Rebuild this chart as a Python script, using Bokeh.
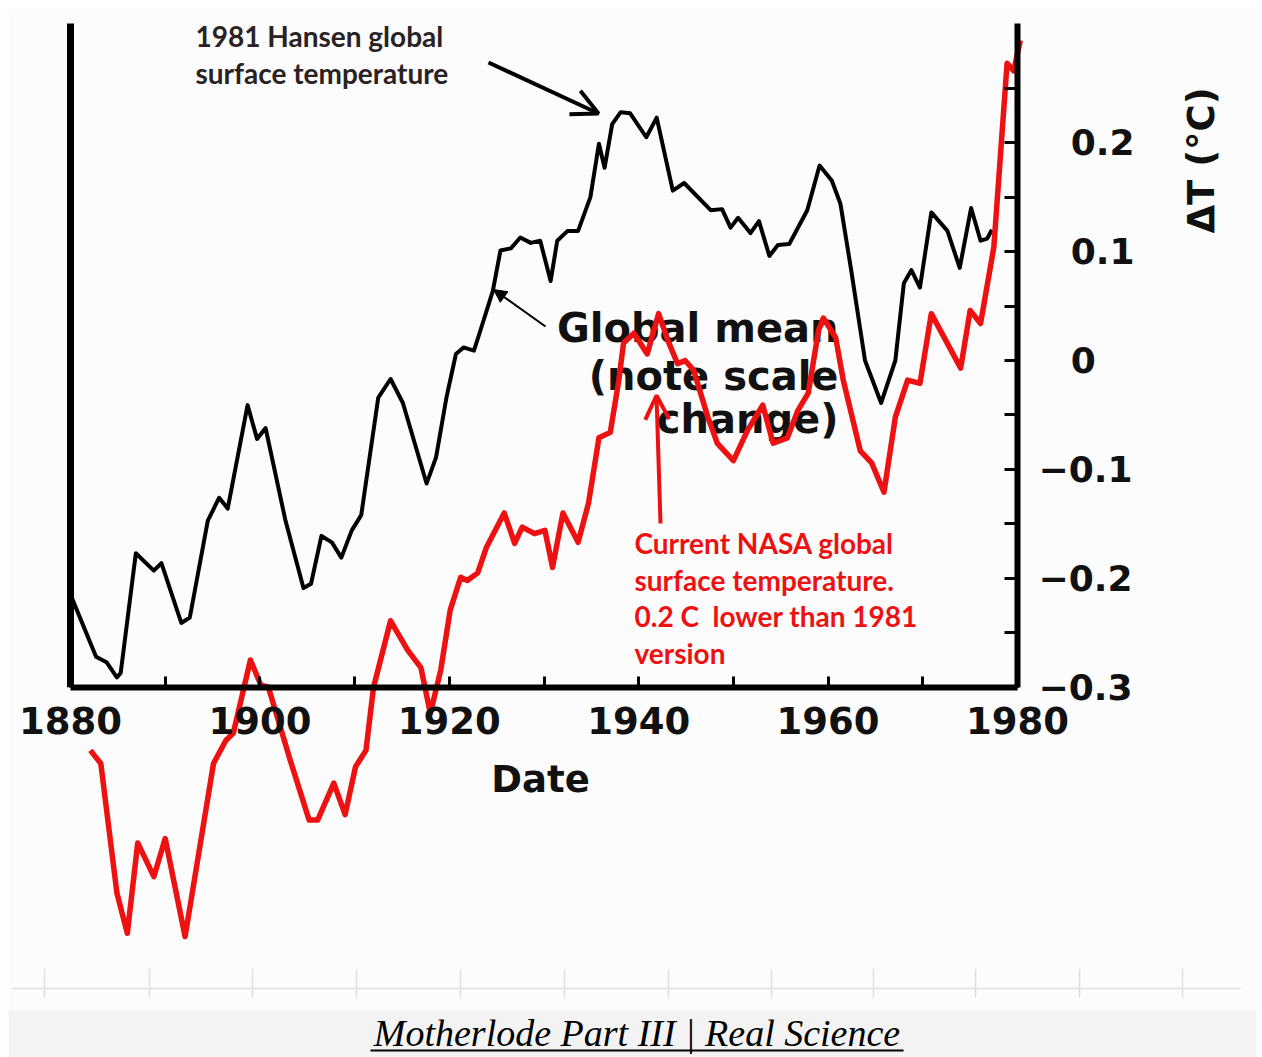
from bokeh.plotting import figure
from bokeh.models import (Range1d, LinearAxis, FixedTicker, Arrow, OpenHead,
                          NormalHead, Label, BoxAnnotation)
from bokeh.core.properties import value
from bokeh.embed import file_html
from bokeh.resources import INLINE

# ---------------- data ----------------
hansen_year = [1880.0, 1882.7, 1883.8, 1884.9, 1885.3, 1886.9, 1888.8, 1889.6, 1891.7, 1892.6,
               1894.5, 1895.7, 1896.6, 1898.7, 1899.7, 1900.6, 1902.7, 1904.6, 1905.4, 1906.5,
               1907.6, 1908.6, 1909.7, 1910.7, 1912.5, 1913.8, 1915.1, 1917.6, 1918.6, 1919.7,
               1920.7, 1921.5, 1922.6, 1923.3, 1924.6, 1925.4, 1926.5, 1927.5, 1928.6, 1929.6,
               1930.7, 1931.4, 1932.5, 1933.6, 1934.9, 1935.8, 1936.4, 1937.2, 1938.1, 1939.1,
               1940.8, 1941.9, 1943.6, 1944.8, 1947.6, 1948.8, 1949.7, 1950.5, 1951.8, 1952.7,
               1953.8, 1954.7, 1955.9, 1957.8, 1959.1, 1960.4, 1961.3, 1962.4, 1963.9, 1965.6,
               1967.1, 1968.0, 1968.8, 1969.7, 1970.9, 1972.6, 1973.9, 1975.1, 1976.1, 1976.8,
               1977.3]
hansen_temp = [-0.215, -0.272, -0.277, -0.291, -0.287, -0.177, -0.193, -0.186, -0.241, -0.236,
               -0.147, -0.126, -0.136, -0.041, -0.072, -0.062, -0.147, -0.209, -0.205, -0.161,
               -0.167, -0.181, -0.156, -0.142, -0.034, -0.017, -0.039, -0.113, -0.089, -0.034,
               0.006, 0.012, 0.009, 0.028, 0.064, 0.101, 0.103, 0.113, 0.108, 0.110,
               0.073, 0.110, 0.119, 0.119, 0.150, 0.199, 0.177, 0.217, 0.228, 0.227,
               0.205, 0.223, 0.156, 0.163, 0.138, 0.139, 0.122, 0.131, 0.117, 0.128,
               0.096, 0.106, 0.107, 0.138, 0.179, 0.165, 0.144, 0.085, 0.000, -0.039,
               0.000, 0.071, 0.083, 0.067, 0.136, 0.119, 0.085, 0.140, 0.110, 0.112,
               0.120]

nasa_year = [1882.1, 1883.2, 1884.9, 1886.0, 1887.1, 1888.8, 1890.0, 1892.1, 1895.1, 1896.4,
             1897.2, 1899.0, 1900.1, 1900.9, 1903.2, 1905.2, 1906.1, 1907.8, 1909.0, 1910.1,
             1911.2, 1912.0, 1913.8, 1915.6, 1917.0, 1918.0, 1919.1, 1920.1, 1921.2, 1921.9,
             1923.0, 1923.9, 1925.8, 1926.9, 1927.7, 1929.0, 1930.1, 1930.9, 1932.0, 1933.6,
             1934.7, 1935.8, 1937.0, 1937.9, 1938.4, 1939.5, 1940.9, 1942.1, 1943.1, 1944.1,
             1944.9, 1945.8, 1947.3, 1948.3, 1950.0, 1951.5, 1953.1, 1954.2, 1955.7, 1956.8,
             1957.9, 1959.0, 1959.5, 1960.8, 1961.6, 1963.4, 1964.6, 1965.9, 1967.1, 1968.4,
             1969.7, 1970.9, 1974.0, 1975.0, 1976.1, 1977.5, 1978.9, 1979.6, 1980.3]
nasa_temp = [-0.358, -0.370, -0.489, -0.526, -0.443, -0.474, -0.439, -0.529, -0.370, -0.349,
             -0.342, -0.275, -0.298, -0.300, -0.367, -0.422, -0.422, -0.388, -0.417, -0.373,
             -0.358, -0.300, -0.239, -0.266, -0.282, -0.324, -0.284, -0.229, -0.199, -0.202,
             -0.195, -0.172, -0.140, -0.168, -0.153, -0.159, -0.156, -0.190, -0.140, -0.167,
             -0.131, -0.071, -0.066, -0.018, 0.016, 0.025, 0.006, 0.043, 0.018, -0.003,
             0.000, -0.009, -0.052, -0.076, -0.092, -0.064, -0.041, -0.076, -0.071, -0.046,
             -0.030, 0.028, 0.039, 0.021, -0.018, -0.083, -0.094, -0.121, -0.052, -0.018,
             -0.021, 0.043, -0.007, 0.046, 0.034, 0.104, 0.273, 0.266, 0.294]

year_labels = [1880, 1900, 1920, 1940, 1960, 1980]
year_minor = [1890, 1910, 1930, 1950, 1970]
temp_labels = [-0.3, -0.2, -0.1, 0.0, 0.1, 0.2]
temp_minor = [-0.25, -0.15, -0.05, 0.05, 0.15, 0.25]

hansen_text = ["1981 Hansen global", "surface temperature"]
nasa_text = ["Current NASA global", "surface temperature.",
             "0.2 C\u00a0 lower than 1981", "version"]
mean_text = ["Global mean", "(note scale", "change)"]
caption = "Motherlode Part III | Real Science"

# ---------------- page-pixel to data helpers (layout only) ----------------
PX_PER_YEAR = 9.47
PX_PER_DEG = 1089.0
BASE_FIX = 0.36   # alphabetic-baseline correction, in em


def dx(px):
    return 1880 + (px - 70) / PX_PER_YEAR


def dy(py):
    return (360 - py) / PX_PER_DEG


def base(py, size):
    return dy(py - BASE_FIX * size)


W, H = 1262, 1057
RED = "#ee1111"

p = figure(width=W, height=H, output_backend="svg", toolbar_location=None,
           x_range=Range1d(dx(0), dx(W)), y_range=Range1d(dy(H), dy(0)),
           x_axis_location=None, y_axis_location=None, min_border=0,
           background_fill_color="#fcfcfc", border_fill_color="white")
p.xgrid.visible = False
p.ygrid.visible = False
p.outline_line_color = None

# white outer frame and caption band
for kw in (dict(right=dx(8)), dict(bottom=dy(8)), dict(left=dx(1256))):
    p.add_layout(BoxAnnotation(fill_color="white", fill_alpha=1.0, line_color=None,
                               level="underlay", **kw))
p.add_layout(BoxAnnotation(top=dy(1010), left=dx(8), right=dx(1256), fill_color="#f3f3f3",
                           fill_alpha=1.0, line_color=None, level="underlay"))

# faint ghost axis near the bottom
GHOST = "#e0e0e0"
ghost_px = [44, 149, 252, 356, 460, 564, 668, 771, 873, 975, 1079, 1182]
p.segment(x0=[dx(12)], y0=[dy(988)], x1=[dx(1240)], y1=[dy(988)],
          line_color=GHOST, line_width=1.5)
p.segment(x0=[dx(v) for v in ghost_px], y0=[dy(968)] * len(ghost_px),
          x1=[dx(v) for v in ghost_px], y1=[dy(997)] * len(ghost_px),
          line_color=GHOST, line_width=1.5)

# left spine
p.segment(x0=[1880], y0=[-0.3], x1=[1880], y1=[dy(23)], line_color="black", line_width=7)

# bottom axis
xaxis = LinearAxis(fixed_location=-0.3,
                   ticker=FixedTicker(ticks=year_labels, minor_ticks=year_minor),
                   bounds=(1880, 1980), axis_line_width=6, axis_line_color="black",
                   major_tick_in=11, major_tick_out=0, major_tick_line_width=3,
                   minor_tick_in=11, minor_tick_out=0, minor_tick_line_width=3,
                   major_label_text_font="DejaVu Sans", major_label_text_font_style="bold",
                   major_label_text_font_size="37px", major_label_text_color="#111111",
                   major_label_standoff=20)
p.add_layout(xaxis, "below")

# right axis
overrides = {}
for v in temp_labels:
    s = f"{abs(v):g}"
    overrides[v] = ("\u2212" + s) if v < 0 else ("\u2007\u2009" + s)
yaxis = LinearAxis(fixed_location=1980,
                   ticker=FixedTicker(ticks=temp_labels, minor_ticks=temp_minor),
                   bounds=(-0.3, dy(23)), axis_line_width=6, axis_line_color="black",
                   major_tick_in=13, major_tick_out=0, major_tick_line_width=3,
                   minor_tick_in=13, minor_tick_out=0, minor_tick_line_width=3,
                   major_label_overrides=overrides,
                   major_label_text_font="DejaVu Sans", major_label_text_font_style="bold",
                   major_label_text_font_size="36px", major_label_text_color="#111111",
                   major_label_standoff=21)
p.add_layout(yaxis, "right")

# axis titles
p.add_layout(Label(x=dx(540), y=base(792, 37), text="Date", text_align="center",
                   text_baseline="alphabetic", text_font="DejaVu Sans",
                   text_font_style="bold", text_font_size="37px", text_color="#111111"))
p.add_layout(Label(x=dx(1201), y=dy(160), text="\u0394T (\u00b0C)", text_align="center",
                   text_baseline="middle", angle=1.5708, text_font="DejaVu Sans",
                   text_font_style="bold", text_font_size="37px", text_color="#111111"))

# Hansen curve
p.line(hansen_year, hansen_temp, line_color="black", line_width=4, line_join="round")

# "Global mean" text (under the red curve)
p.text(x=[dx(838)] * 3, y=[base(342, 40), base(390, 40), base(433, 40)], text=mean_text,
       text_align="right", text_baseline="alphabetic", text_font=value("DejaVu Sans"),
       text_font_style="bold", text_font_size="40px", text_color="#111111")

# NASA curve
p.line(nasa_year, nasa_temp, line_color=RED, line_width=5.5, line_join="round")

# annotation texts
p.text(x=[dx(195)] * 2, y=[base(46, 28), base(83, 28)], text=hansen_text, text_align="left",
       text_baseline="alphabetic", text_font=value("Lato"), text_font_style="bold",
       text_font_size="28px", text_color="#2a2222")
p.text(x=[dx(634)] * 4, y=[base(553, 28), base(590, 28), base(626, 28), base(663, 28)],
       text=nasa_text, text_align="left", text_baseline="alphabetic", text_font=value("Lato"),
       text_font_style="bold", text_font_size="28px", text_color=RED)

# arrows
p.add_layout(Arrow(x_start=dx(488), y_start=dy(62), x_end=dx(598), y_end=dy(113),
                   line_width=4, line_color="black",
                   end=OpenHead(size=26, line_width=4, line_color="black")))
p.add_layout(Arrow(x_start=dx(545), y_start=dy(326), x_end=dx(493), y_end=dy(289),
                   line_width=2, line_color="black",
                   end=NormalHead(size=13, line_width=1, line_color="black", fill_color="black")))
p.add_layout(Arrow(x_start=dx(660), y_start=dy(523), x_end=dx(656), y_end=dy(395),
                   line_width=4, line_color=RED,
                   end=OpenHead(size=24, line_width=4, line_color=RED)))

# caption with underline
cap_cx, cap_w = 636.5, 533
p.add_layout(Label(x=dx(cap_cx), y=base(1046, 38), text=caption, text_align="center",
                   text_baseline="alphabetic", text_font="Liberation Serif",
                   text_font_style="italic", text_font_size="38px", text_color="black"))
p.segment(x0=[dx(cap_cx - cap_w / 2)], y0=[dy(1050)], x1=[dx(cap_cx + cap_w / 2)],
          y1=[dy(1050)], line_color="black", line_width=2)

open("out.html", "w").write(file_html(p, INLINE))
